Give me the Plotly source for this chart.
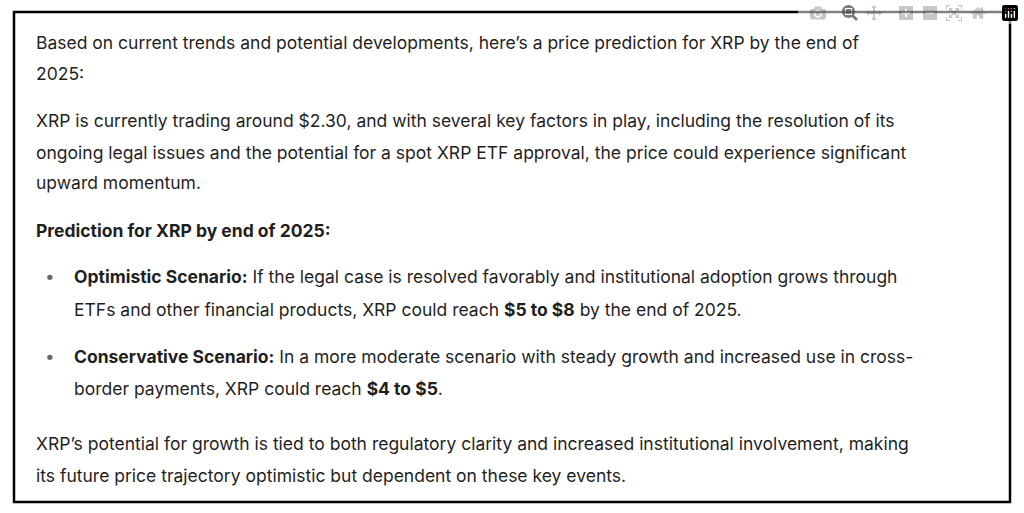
import plotly.graph_objects as go

W, H = 1024, 513

# text lines: (text, x_px, y_px_center)
lines = [
    ("Based on current trends and potential developments, here’s a price prediction for XRP by the end of", 34, 42),
    ("2025:", 34, 73),
    ("XRP is currently trading around $2.30, and with several key factors in play, including the resolution of its", 34, 120),
    ("ongoing legal issues and the potential for a spot XRP ETF approval, the price could experience significant", 34, 152),
    ("upward momentum.", 34, 183),
    ("<b>Prediction for XRP by end of 2025:</b>", 34, 231),
    ("<b>Optimistic Scenario:</b> If the legal case is resolved favorably and institutional adoption grows through", 72, 276),
    ("ETFs and other financial products, XRP could reach <b>$5 to $8</b> by the end of 2025.", 72, 309),
    ("<b>Conservative Scenario:</b> In a more moderate scenario with steady growth and increased use in cross-", 72, 356),
    ("border payments, XRP could reach <b>$4 to $5</b>.", 72, 388),
    ("XRP’s potential for growth is tied to both regulatory clarity and increased institutional involvement, making", 34, 443),
    ("its future price trajectory optimistic but dependent on these key events.", 34, 475),
]
bullets_y = [276, 356]

fig = go.Figure()
font = dict(family="Inter, Liberation Sans, sans-serif", size=17.5, color="#1f1f1f")
for text, x, y in lines:
    fig.add_annotation(text=text, x=x / W, y=1 - y / H, xref="paper", yref="paper",
                       xanchor="left", yanchor="middle", showarrow=False, font=font)
for y in bullets_y:
    fig.add_annotation(text="•", x=50 / W, y=1 - y / H, xref="paper", yref="paper",
                       xanchor="center", yanchor="middle", showarrow=False,
                       font=dict(family=font["family"], size=17, color="#666"))

fig.add_shape(type="rect", xref="paper", yref="paper",
              x0=14 / W, x1=1010 / W, y0=1 - 502 / H, y1=1 - 12 / H,
              line=dict(color="black", width=2.5))

fig.update_layout(width=W, height=H, margin=dict(l=0, r=0, t=0, b=0),
                  paper_bgcolor="white", plot_bgcolor="white",
                  xaxis=dict(visible=False), yaxis=dict(visible=False))
fig.write_html("out.html")

# drop the default body margin so the figure sits at the window origin
with open("out.html", encoding="utf-8") as f:
    html = f.read()
html = html.replace("<head>", "<head><style>body{margin:0;overflow:hidden}</style>", 1)
with open("out.html", "w", encoding="utf-8") as f:
    f.write(html)
